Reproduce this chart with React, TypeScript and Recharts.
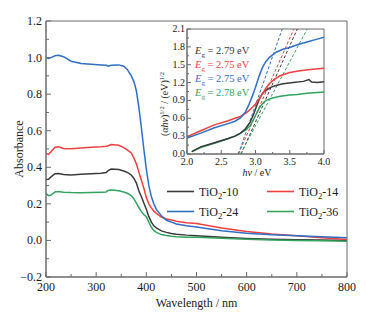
import React from 'react';
import { LineChart, Line, XAxis, YAxis, ReferenceArea, Legend } from 'recharts';

// ---------- main spectrum data ----------
const wavelengths = [200, 205, 210, 218, 225, 235, 250, 270, 290, 310, 320, 324, 330, 345, 355, 362, 370, 375, 380, 385, 390, 395, 400, 405, 410, 415, 420, 430, 440, 450, 460, 480, 500, 550, 600, 650, 700, 750, 800];
const absTiO2_10 = [0.333, 0.335, 0.348, 0.365, 0.366, 0.36, 0.358, 0.362, 0.365, 0.368, 0.371, 0.382, 0.39, 0.388, 0.38, 0.372, 0.358, 0.34, 0.315, 0.272, 0.24, 0.205, 0.17, 0.13, 0.1, 0.08, 0.068, 0.052, 0.044, 0.038, 0.034, 0.029, 0.026, 0.017, 0.01, 0.006, 0.004, 0.002, 0.0];
const absTiO2_14 = [0.475, 0.47, 0.485, 0.51, 0.512, 0.503, 0.502, 0.506, 0.51, 0.512, 0.515, 0.518, 0.524, 0.52, 0.508, 0.495, 0.478, 0.452, 0.42, 0.375, 0.33, 0.285, 0.235, 0.2, 0.178, 0.16, 0.148, 0.128, 0.117, 0.112, 0.105, 0.097, 0.092, 0.068, 0.049, 0.035, 0.026, 0.014, 0.005];
const absTiO2_24 = [1.0, 0.995, 1.0, 1.01, 1.013, 1.005, 0.98, 0.968, 0.964, 0.96, 0.958, 0.953, 0.958, 0.96, 0.953, 0.935, 0.9, 0.87, 0.82, 0.73, 0.62, 0.5, 0.39, 0.3, 0.24, 0.2, 0.17, 0.135, 0.11, 0.1, 0.09, 0.08, 0.074, 0.053, 0.039, 0.031, 0.025, 0.02, 0.015];
const absTiO2_36 = [0.256, 0.245, 0.248, 0.265, 0.268, 0.264, 0.262, 0.261, 0.262, 0.264, 0.265, 0.273, 0.276, 0.272, 0.265, 0.258, 0.245, 0.228, 0.205, 0.18, 0.158, 0.142, 0.13, 0.1, 0.072, 0.055, 0.044, 0.032, 0.027, 0.023, 0.02, 0.018, 0.017, 0.012, 0.006, 0.002, 0.0, -0.002, -0.004];

const seriesNames = ['TiO2-10', 'TiO2-14', 'TiO2-24', 'TiO2-36'];
const mainXTicks = [200, 250, 300, 350, 400, 450, 500, 550, 600, 650, 700, 750, 800];
const mainYTicks = [-0.2, -0.1, 0, 0.1, 0.2, 0.3, 0.4, 0.5, 0.6, 0.7, 0.8, 0.9, 1.0, 1.1, 1.2];

// ---------- inset Tauc plot data ----------
const tauc10E = [2.07, 2.2, 2.4, 2.6, 2.7, 2.78, 2.85, 2.92, 2.97, 3.02, 3.07, 3.12, 3.17, 3.22, 3.3, 3.4, 3.55, 3.7, 3.78, 3.82, 3.9, 4.0];
const tauc10V = [0.04, 0.12, 0.19, 0.26, 0.3, 0.35, 0.42, 0.53, 0.66, 0.82, 0.96, 1.04, 1.08, 1.12, 1.15, 1.18, 1.2, 1.22, 1.25, 1.21, 1.2, 1.215];
const tauc14E = [2.0, 2.2, 2.4, 2.6, 2.7, 2.78, 2.85, 2.92, 3.0, 3.05, 3.1, 3.15, 3.2, 3.27, 3.35, 3.5, 3.65, 3.8, 4.0];
const tauc14V = [0.29, 0.39, 0.49, 0.56, 0.6, 0.63, 0.68, 0.745, 0.84, 0.92, 1.01, 1.1, 1.18, 1.25, 1.31, 1.37, 1.4, 1.42, 1.44];
const tauc24E = [2.0, 2.2, 2.4, 2.6, 2.7, 2.78, 2.85, 2.9, 2.95, 3.0, 3.05, 3.1, 3.15, 3.2, 3.3, 3.4, 3.5, 3.6, 3.75, 3.9, 4.0];
const tauc24V = [0.267, 0.35, 0.44, 0.51, 0.55, 0.605, 0.7, 0.82, 0.96, 1.12, 1.3, 1.45, 1.55, 1.62, 1.71, 1.76, 1.79, 1.83, 1.88, 1.93, 1.96];
const tauc36E = [2.07, 2.2, 2.4, 2.6, 2.7, 2.78, 2.85, 2.92, 2.97, 3.02, 3.07, 3.12, 3.17, 3.25, 3.36, 3.5, 3.61, 3.75, 3.85, 4.0];
const tauc36V = [0.04, 0.11, 0.18, 0.255, 0.3, 0.345, 0.4, 0.47, 0.576, 0.69, 0.8, 0.87, 0.91, 0.94, 0.97, 0.99, 1.0, 1.02, 1.03, 1.04];

// tangent (fit) lines: E at v = 0 and E at the top of the inset
const fit10E = [2.79, 3.61];
const fit14E = [2.75, 3.56];
const fit24E = [2.75, 3.39];
const fit36E = [2.78, 3.755];
const fitV = [0, 2.1];

const bandGapLabels = ['2.79', '2.75', '2.75', '2.78'];
const insetXTicks = [2.0, 2.25, 2.5, 2.75, 3.0, 3.25, 3.5, 3.75, 4.0];
const insetYTicks = [0, 0.15, 0.3, 0.45, 0.6, 0.75, 0.9, 1.05, 1.2, 1.35, 1.5, 1.65, 1.8, 1.95, 2.1];

// ---------- build data ----------
const mainData = wavelengths.map((wl, i) => ({
  wl,
  s10: absTiO2_10[i],
  s14: absTiO2_14[i],
  s24: absTiO2_24[i],
  s36: absTiO2_36[i],
}));
const pairs = (es: number[], vs: number[]) => es.map((e, i) => ({ e, v: vs[i] }));

const FONT = "'Liberation Serif', 'Times New Roman', serif";
const FS = { fontFamily: FONT } as React.CSSProperties;
const AX = '#6a6a6a';
const TXT = '#1a1a1a';
const COLORS = ['#3a3a3a', '#f0403f', '#2f6fc6', '#33a35f'];

const isMajorStep = (v: number, step: number, origin: number) => {
  const k = (v - origin) / step;
  return Math.abs(k - Math.round(k)) < 1e-6;
};

function MainXTick(props: any) {
  const { x, y, payload } = props;
  const v = payload.value;
  const major = isMajorStep(v, 100, 200);
  return (
    <g>
      <line x1={x} x2={x} y1={y} y2={y - (major ? 5 : 3)} stroke={AX} strokeWidth={1} />
      {major && (
        <text x={x} y={y + 14} textAnchor="middle" fontSize={12} fill={TXT} style={FS}>{v}</text>
      )}
    </g>
  );
}

function MainYTick(props: any) {
  const { x, y, payload } = props;
  const v = payload.value;
  const major = isMajorStep(v, 0.2, -0.2);
  const label = v < 0 ? '\u2212' + Math.abs(v).toFixed(1) : v.toFixed(1);
  return (
    <g>
      <line x1={x} x2={x + (major ? 5 : 3)} y1={y} y2={y} stroke={AX} strokeWidth={1} />
      {major && (
        <text x={x - 4} y={y + 4} textAnchor="end" fontSize={12} fill={TXT} style={FS}>{label}</text>
      )}
    </g>
  );
}

function InsetXTick(props: any) {
  const { x, y, payload } = props;
  const v = payload.value;
  const major = isMajorStep(v, 0.5, 2);
  return (
    <g>
      <line x1={x} x2={x} y1={y} y2={y - (major ? 4 : 2)} stroke={AX} strokeWidth={1} />
      {major && (
        <text x={x} y={y + 11} textAnchor="middle" fontSize={10} fill={TXT} style={FS}>{v.toFixed(1)}</text>
      )}
    </g>
  );
}

function InsetYTick(props: any) {
  const { x, y, payload } = props;
  const v = payload.value;
  const major = isMajorStep(v, 0.3, 0);
  return (
    <g>
      <line x1={x} x2={x + (major ? 4 : 2)} y1={y} y2={y} stroke={AX} strokeWidth={1} />
      {major && (
        <text x={x - 2} y={y + 3} textAnchor="end" fontSize={10} fill={TXT} style={FS}>{v.toFixed(1)}</text>
      )}
    </g>
  );
}

function SubName({ name }: { name: string }) {
  const k = name.indexOf('2');
  return (
    <>
      <tspan>{name.slice(0, k)}</tspan>
      <tspan fontSize={8.5} dy={3}>2</tspan>
      <tspan dy={-3}>{name.slice(k + 1)}</tspan>
    </>
  );
}

function LegendContent() {
  const cols = [7, 107];
  const rows = [11.5, 31.5];
  return (
    <svg width={200} height={44} style={{ display: 'block' }}>
      {seriesNames.map((n, i) => {
        const cx = cols[i % 2];
        const cy = rows[Math.floor(i / 2)];
        return (
          <g key={n}>
            <line x1={cx} x2={cx + 27} y1={cy} y2={cy} stroke={COLORS[i]} strokeWidth={1.6} />
            <text x={cx + 32} y={cy + 4} fontSize={12} fill={TXT} style={FS}>
              <SubName name={n} />
            </text>
          </g>
        );
      })}
    </svg>
  );
}

export default function App() {
  return (
    <div style={{ position: 'absolute', left: 0, top: 0, width: 366, height: 318, background: '#fff', fontFamily: FONT }}>
      <LineChart width={366} height={318} data={mainData} margin={{ top: 21, right: 19, left: 0, bottom: 0 }}>
        <ReferenceArea x1={200} x2={800} y1={-0.2} y2={1.2} fill="none" stroke={AX} strokeWidth={1} ifOverflow="visible" />
        <XAxis dataKey="wl" type="number" domain={[200, 800]} ticks={mainXTicks} interval={0} height={41}
          tickSize={0} tickMargin={0} tickLine={false} axisLine={{ stroke: AX }} tick={MainXTick} allowDataOverflow />
        <YAxis type="number" domain={[-0.2, 1.2]} ticks={mainYTicks} interval={0} width={46}
          tickSize={0} tickMargin={0} tickLine={false} axisLine={{ stroke: AX }} tick={MainYTick} allowDataOverflow />
        <Line dataKey="s10" name={seriesNames[0]} stroke={COLORS[0]} strokeWidth={1.5} dot={false} isAnimationActive={false} />
        <Line dataKey="s14" name={seriesNames[1]} stroke={COLORS[1]} strokeWidth={1.5} dot={false} isAnimationActive={false} />
        <Line dataKey="s24" name={seriesNames[2]} stroke={COLORS[2]} strokeWidth={1.5} dot={false} isAnimationActive={false} />
        <Line dataKey="s36" name={seriesNames[3]} stroke={COLORS[3]} strokeWidth={1.5} dot={false} isAnimationActive={false} />
        <Legend layout="horizontal" verticalAlign="middle" align="center" content={<LegendContent />}
          wrapperStyle={{ position: 'absolute', left: 160, top: 180, width: 200, height: 44 }} />
      </LineChart>

      <div style={{ position: 'absolute', left: 150, top: 20 }}>
        <LineChart width={180} height={165} margin={{ top: 9, right: 6, left: 0, bottom: 0 }}>
          <ReferenceArea x1={2} x2={4} y1={0} y2={2.1} fill="#fff" stroke={AX} strokeWidth={1} ifOverflow="visible" />
          <XAxis dataKey="e" type="number" domain={[2, 4]} ticks={insetXTicks} interval={0} height={31}
            tickSize={0} tickMargin={0} tickLine={false} axisLine={{ stroke: AX }} tick={InsetXTick} allowDataOverflow />
          <YAxis type="number" domain={[0, 2.1]} ticks={insetYTicks} interval={0} width={37}
            tickSize={0} tickMargin={0} tickLine={false} axisLine={{ stroke: AX }} tick={InsetYTick} allowDataOverflow />
          <Line data={pairs(fit10E, fitV)} dataKey="v" stroke={COLORS[0]} strokeWidth={1} strokeDasharray="3 2" dot={false} isAnimationActive={false} />
          <Line data={pairs(fit14E, fitV)} dataKey="v" stroke={COLORS[1]} strokeWidth={1} strokeDasharray="3 2" dot={false} isAnimationActive={false} />
          <Line data={pairs(fit24E, fitV)} dataKey="v" stroke={COLORS[2]} strokeWidth={1} strokeDasharray="3 2" dot={false} isAnimationActive={false} />
          <Line data={pairs(fit36E, fitV)} dataKey="v" stroke={COLORS[3]} strokeWidth={1} strokeDasharray="3 2" dot={false} isAnimationActive={false} />
          <Line data={pairs(tauc36E, tauc36V)} dataKey="v" stroke={COLORS[3]} strokeWidth={1.5} dot={false} isAnimationActive={false} />
          <Line data={pairs(tauc10E, tauc10V)} dataKey="v" stroke={COLORS[0]} strokeWidth={1.5} dot={false} isAnimationActive={false} />
          <Line data={pairs(tauc14E, tauc14V)} dataKey="v" stroke={COLORS[1]} strokeWidth={1.5} dot={false} isAnimationActive={false} />
          <Line data={pairs(tauc24E, tauc24V)} dataKey="v" stroke={COLORS[2]} strokeWidth={1.5} dot={false} isAnimationActive={false} />
        </LineChart>
      </div>

      <svg width={366} height={318} style={{ position: 'absolute', left: 0, top: 0, pointerEvents: 'none' }}>
        <text transform="translate(23,149) rotate(-90)" textAnchor="middle" fontSize={12} fill={TXT} style={FS}>Absorbance</text>
        <text x={196.5} y={307} textAnchor="middle" fontSize={12} fill={TXT} style={FS}>Wavelength / nm</text>
        <text x={257} y={175.5} textAnchor="middle" fontSize={10} fill={TXT} style={FS}>
          <tspan fontStyle="italic">h&#957;</tspan><tspan> / eV</tspan>
        </text>
        <text transform="translate(168,104) rotate(-90)" textAnchor="middle" fontSize={10} fill={TXT} style={FS}>
          <tspan>(</tspan><tspan fontStyle="italic">&#945;h&#957;</tspan><tspan>)</tspan>
          <tspan fontSize={6.5} dy={-4}>1/2</tspan><tspan dy={4}> / (eV)</tspan>
          <tspan fontSize={6.5} dy={-4}>1/2</tspan>
        </text>
        {bandGapLabels.map((g, i) => (
          <text key={i} x={195} y={54 + i * 14} fontSize={10.5} fill={COLORS[i]} style={FS}>
            <tspan fontStyle="italic">E</tspan>
            <tspan fontSize={7} dy={2.5}>g</tspan>
            <tspan dy={-2.5}>{' = ' + g + ' eV'}</tspan>
          </text>
        ))}
      </svg>
    </div>
  );
}
